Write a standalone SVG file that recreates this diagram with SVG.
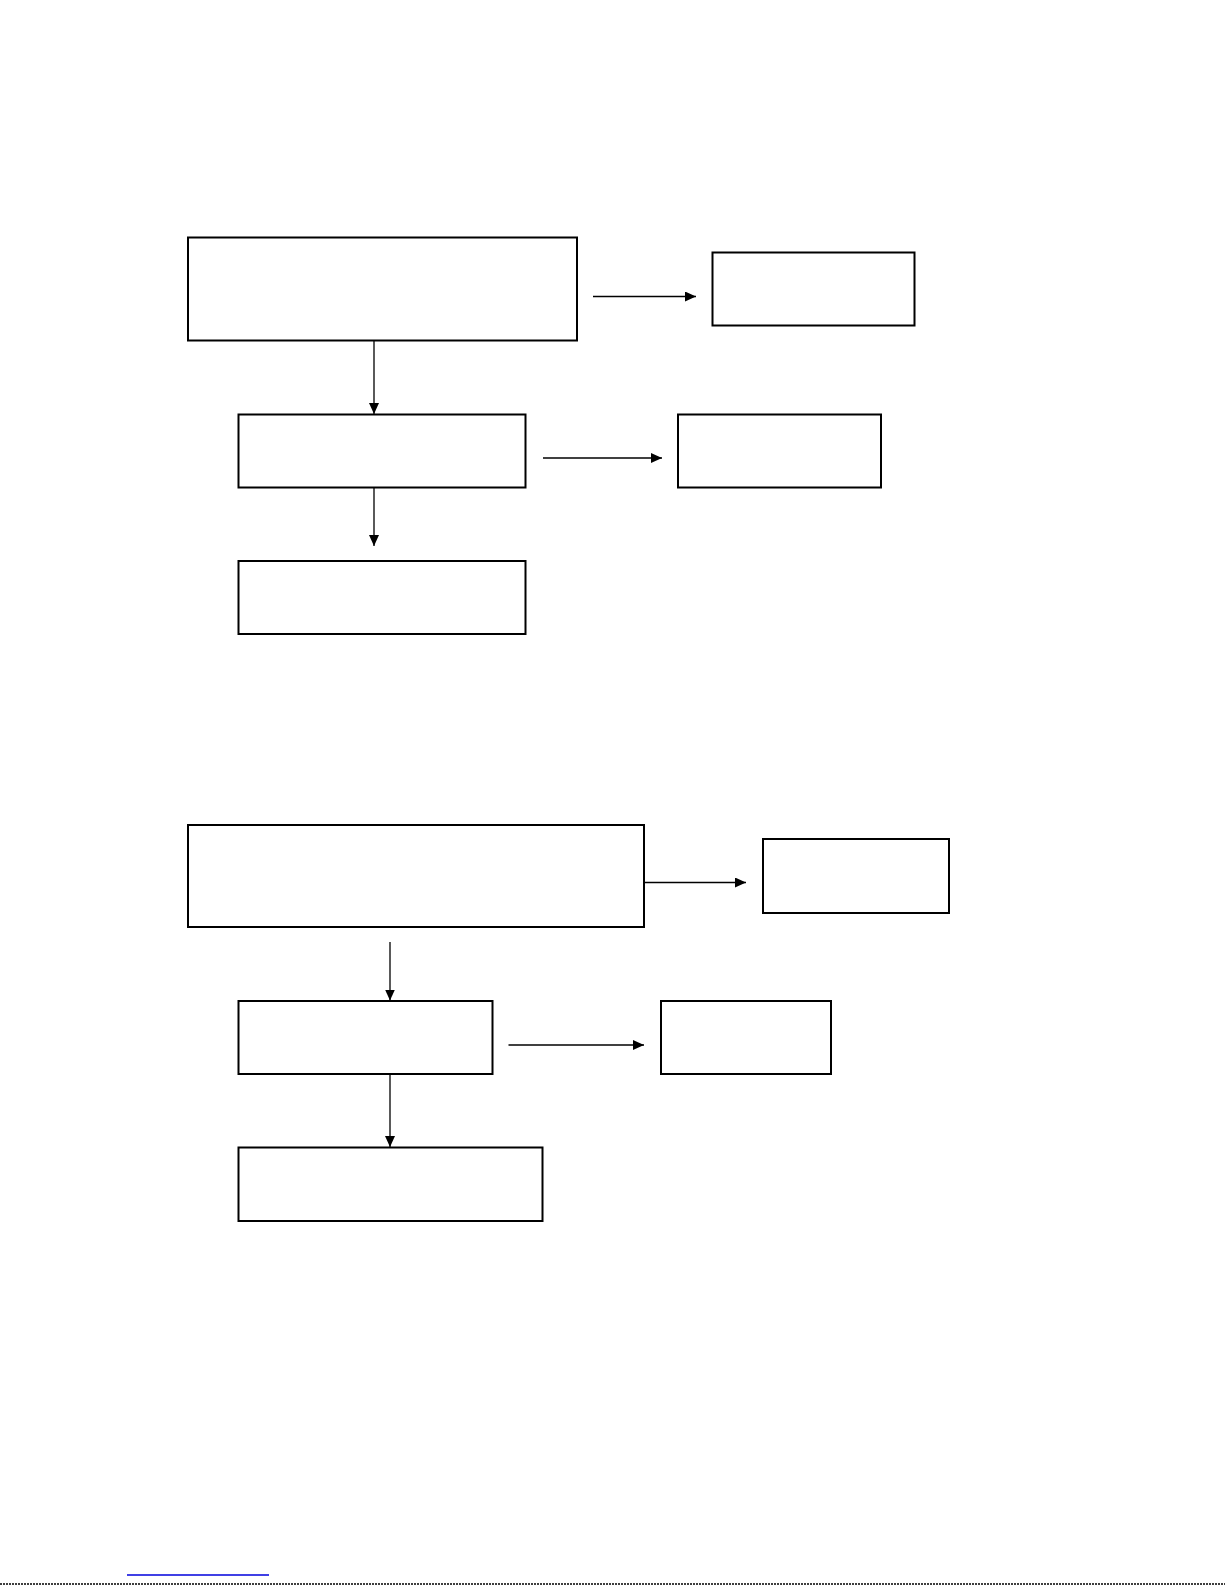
<svg xmlns="http://www.w3.org/2000/svg" width="1225" height="1585" viewBox="0 0 1225 1585">
<style>
.box{fill:#ffffff;stroke:#000000;stroke-width:2}
.con{fill:none;stroke:#000000;stroke-width:1.3;marker-end:url(#ah)}
</style>
<defs>
<marker id="ah" markerUnits="userSpaceOnUse" markerWidth="12" markerHeight="10" refX="11" refY="5" orient="auto">
<path d="M0,0 L11,5 L0,10 Z" fill="#000000"/>
</marker>
</defs>
<rect width="1225" height="1585" fill="#ffffff"/>
<g id="n1"><rect class="box" x="188" y="237.5" width="389" height="103"/></g>
<g id="n2"><rect class="box" x="712.5" y="252.5" width="202" height="73"/></g>
<g id="n3"><rect class="box" x="238.5" y="414.5" width="287" height="73"/></g>
<g id="n4"><rect class="box" x="678" y="414.5" width="203" height="73"/></g>
<g id="n5"><rect class="box" x="238.5" y="561" width="287" height="73"/></g>
<g id="n6"><rect class="box" x="188" y="825" width="456" height="102"/></g>
<g id="n7"><rect class="box" x="763" y="839" width="186" height="74"/></g>
<g id="n8"><rect class="box" x="238.5" y="1001" width="254" height="73"/></g>
<g id="n9"><rect class="box" x="661" y="1001" width="170" height="73"/></g>
<g id="n10"><rect class="box" x="238.5" y="1147.5" width="304" height="73.5"/></g>
<g id="connectors">
<line class="con" x1="593" y1="296.5" x2="696" y2="296.5"/>
<line class="con" x1="374" y1="341" x2="374" y2="414"/>
<line class="con" x1="543" y1="458" x2="662" y2="458"/>
<line class="con" x1="374" y1="488" x2="374" y2="546"/>
<line class="con" x1="644" y1="882.5" x2="746" y2="882.5"/>
<line class="con" x1="390" y1="942" x2="390" y2="1000.5"/>
<line class="con" x1="508.5" y1="1045" x2="644" y2="1045"/>
<line class="con" x1="390" y1="1074" x2="390" y2="1147"/>
</g>
<line x1="127" y1="1575" x2="269" y2="1575" stroke="#0000dd" stroke-width="1.5"/>
<line x1="0" y1="1584" x2="1225" y2="1584" stroke="#000000" stroke-width="1.5" stroke-dasharray="2,1"/>
</svg>
